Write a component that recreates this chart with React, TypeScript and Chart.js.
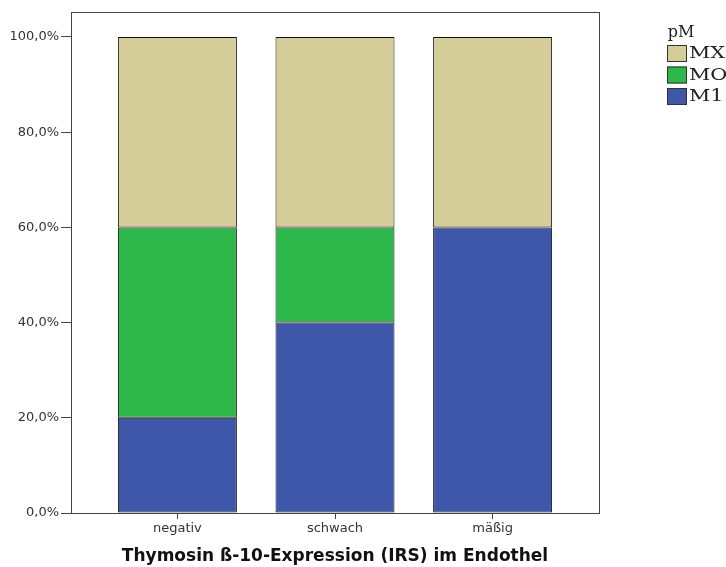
import React, { useEffect, useRef } from "react";
import { Chart, registerables } from "chart.js";

Chart.register(...registerables);

const categories = ["negativ", "schwach", "mäßig"];
const seriesM1 = [20, 40, 60];
const seriesMO = [40, 20, 0];
const seriesMX = [40, 40, 40];
const yTicks = [0, 20, 40, 60, 80, 100];
const legendTitle = "pM";
const xTitle = "Thymosin ß-10-Expression (IRS) im Endothel";

const colM1 = "#3e57a8";
const colMO = "#2eb84b";
const colMX = "#d4cd9a";

const framePlugin = {
  id: "frame",
  afterDraw(chart: any) {
    const { ctx, chartArea } = chart;
    ctx.save();
    ctx.strokeStyle = "#444";
    ctx.lineWidth = 1;
    ctx.strokeRect(
      Math.round(chartArea.left) + 0.5,
      Math.round(chartArea.top) + 0.5,
      Math.round(chartArea.right - chartArea.left),
      Math.round(chartArea.bottom - chartArea.top)
    );
    // legend
    const items = [
      { label: "MX", color: colMX },
      { label: "MO", color: colMO },
      { label: "M1", color: colM1 },
    ];
    ctx.fillStyle = "#222";
    ctx.font = "16px 'DejaVu Serif', 'Liberation Serif', serif";
    ctx.textAlign = "center";
    ctx.textBaseline = "middle";
    ctx.fillText(legendTitle, 681, 33);
    ctx.textAlign = "left";
    items.forEach((it, i) => {
      const y = 45 + i * 21.5;
      ctx.fillStyle = it.color;
      ctx.fillRect(667, y, 20, 17);
      ctx.strokeStyle = "#333";
      ctx.strokeRect(667.5, y + 0.5, 19, 16);
      ctx.fillStyle = "#222";
      ctx.save();
      ctx.translate(689, y + 9);
      ctx.scale(1.3, 1);
      ctx.font = "16px 'DejaVu Serif', 'Liberation Serif', serif";
      ctx.fillText(it.label, 0, 0);
      ctx.restore();
    });
    ctx.restore();
  },
};

export default function App() {
  const ref = useRef<HTMLCanvasElement>(null);
  useEffect(() => {
    if (!ref.current) return;
    const mk = (arr: number[]) => arr.map((v, i) => ({ x: i, y: v }));
    const ds = (label: string, arr: number[], color: string) => ({
      label,
      data: mk(arr),
      backgroundColor: color,
      borderColor: "#111",
      borderWidth: 1,
      borderSkipped: false,
      barPercentage: 0.755,
      categoryPercentage: 1,
    });
    const chart = new Chart(ref.current, {
      type: "bar",
      data: {
        datasets: [
          ds("M1", seriesM1, colM1),
          ds("MO", seriesMO, colMO),
          ds("MX", seriesMX, colMX),
        ],
      },
      plugins: [framePlugin],
      options: {
        animation: false,
        responsive: false,
        layout: { padding: { left: 0, right: 127, top: 12, bottom: 0 } },
        plugins: { legend: { display: false }, tooltip: { enabled: false } },
        scales: {
          x: {
            type: "linear",
            stacked: true,
            offset: false,
            min: -0.675,
            max: 2.675,
            afterBuildTicks: (s: any) => {
              s.ticks = categories.map((_, i) => ({ value: i }));
            },
            afterFit: (s: any) => {
              s.height = 54;
            },
            ticks: {
              callback: (v: any) => categories[v as number] ?? "",
              color: "#333",
              font: { family: "'DejaVu Sans'", size: 13 },
              padding: 2,
              maxRotation: 0,
            },
            grid: {
              offset: false,
              drawOnChartArea: false,
              tickLength: 6,
              color: "#444",
            },
            border: { display: false },
            title: {
              display: true,
              text: xTitle,
              color: "#111",
              font: { family: "'DejaVu Sans'", size: 17, weight: "bold" },
              padding: { top: 3, bottom: 0 },
            },
          },
          y: {
            stacked: true,
            min: 0,
            max: 105.25,
            afterBuildTicks: (s: any) => {
              s.ticks = yTicks.map((v) => ({ value: v }));
            },
            afterFit: (s: any) => {
              s.width = 71;
            },
            ticks: {
              callback: (v: any) => Number(v).toFixed(1).replace(".", ",") + "%",
              color: "#333",
              font: { family: "'DejaVu Sans'", size: 13 },
              padding: 2,
            },
            grid: {
              drawOnChartArea: false,
              tickLength: 10,
              color: "#444",
            },
            border: { display: false },
          },
        },
      },
    } as any);
    return () => chart.destroy();
  }, []);
  return (
    <div style={{ position: "fixed", left: 0, top: 0, width: 726, height: 567, background: "#fff" }}>
      <canvas ref={ref} width={726} height={567} style={{ display: "block" }} />
    </div>
  );
}
